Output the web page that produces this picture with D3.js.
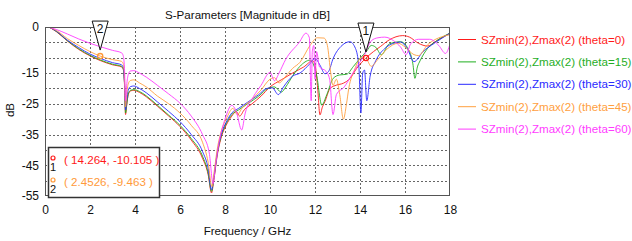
<!DOCTYPE html>
<html><head><meta charset="utf-8">
<script src="https://cdn.jsdelivr.net/npm/d3@7"></script>
<style>body{margin:0;background:#fff}svg{display:block}text{font-family:"Liberation Sans",Arial,sans-serif}</style>
</head><body><svg id="c" width="632" height="241"></svg>
<script>
// ---------- data ----------
const seriesNames = ["SZmin(2),Zmax(2) (theta=0)","SZmin(2),Zmax(2) (theta=15)","SZmin(2),Zmax(2) (theta=30)","SZmin(2),Zmax(2) (theta=45)","SZmin(2),Zmax(2) (theta=60)"];
const seriesColors = ["#ff1a1a","#1fae1f","#2a2aff","#ffa040","#ff3cff"];
const xTicks = [0,2,4,6,8,10,12,14,16,18];
const yTickLabels = [0,-15,-25,-35,-45,-55];
const yGrid = [-5,-10,-15,-20,-25,-30,-35,-40,-45,-50];

const red = [[0.2,-0.1],[0.5,-1.5],[1,-4.6],[1.5,-7.3],[2,-9.4],[2.45,-10.9],[3,-12.3],[3.4,-13.0],[3.47,-13.6],[3.53,-18],[3.58,-28.5],[3.63,-25.5],[3.7,-22],[3.8,-20.8],[3.95,-20.6],[4.2,-21.3],[4.5,-22.7],[5,-25.8],[5.5,-29],[6,-32.4],[6.5,-36.8],[7,-42.7],[7.25,-48],[7.4,-54],[7.5,-50],[7.65,-42],[7.85,-35.5],[8.05,-32],[8.3,-29],[8.5,-27.5],[8.65,-29],[8.85,-27],[9.2,-25],[9.6,-22.5],[10,-19.5],[10.5,-17.2],[11,-15],[11.5,-13],[11.9,-11],[12.02,-13],[12.12,-20],[12.22,-28.6],[12.33,-26],[12.44,-24.3],[12.67,-20],[12.96,-18.9],[13.26,-18.3],[13.56,-16.7],[13.85,-13.5],[14.264,-10.105],[14.6,-8],[14.9,-6.4],[15.3,-4.2],[15.9,-2.8],[16.2,-3.3],[16.6,-5.3],[17,-6.2],[17.4,-4.5],[18,-2]];
const green = [[0.2,-0.1],[0.5,-1.4],[1,-4.5],[1.5,-7.1],[2,-9.2],[2.45,-10.7],[3,-12.1],[3.4,-12.8],[3.47,-13.4],[3.53,-18],[3.58,-28],[3.63,-25.3],[3.7,-21.8],[3.8,-20.6],[3.95,-20.4],[4.2,-21],[4.5,-22.4],[5,-25.5],[5.5,-28.7],[6,-32],[6.5,-36.3],[7,-42],[7.25,-47.5],[7.4,-53.5],[7.5,-49.5],[7.65,-41.5],[7.85,-35],[8.05,-31.5],[8.3,-28.5],[8.6,-27],[9,-25],[9.5,-22.5],[9.9,-20],[10.2,-19.5],[10.5,-21.2],[10.7,-19.5],[11,-16],[11.33,-12.8],[11.78,-10.8],[12.07,-15.6],[12.3,-25.4],[12.52,-22.1],[12.81,-16.7],[13.1,-15.6],[13.4,-15.4],[13.7,-12.9],[14,-10.2],[14.3,-7.8],[14.5,-6],[14.7,-6.6],[14.95,-9],[15.3,-5.5],[15.8,-4.8],[16.2,-8],[16.35,-12],[16.44,-16.7],[16.55,-13],[16.67,-11],[17,-7],[17.4,-4.5],[18,-2]];
const blue = [[0.2,-0.1],[0.5,-1.3],[1,-4.3],[1.5,-6.7],[2,-8.8],[2.45,-10.2],[3,-11.6],[3.4,-12.3],[3.47,-13],[3.53,-17.5],[3.58,-27],[3.63,-24],[3.7,-20.5],[3.8,-19.4],[3.95,-19.2],[4.2,-20],[4.5,-21.4],[5,-24.4],[5.5,-27.5],[6,-30.8],[6.5,-35],[7,-40.5],[7.25,-46],[7.4,-53],[7.5,-49],[7.65,-41],[7.85,-34.5],[8.05,-31],[8.3,-28],[8.6,-26.5],[9,-24.5],[9.5,-22],[9.85,-20],[10.1,-19.8],[10.37,-22],[10.6,-19.5],[11,-16],[11.33,-15],[11.78,-11.9],[12,-10.2],[12.22,-12.4],[12.44,-15.2],[12.6,-14.5],[12.81,-10.2],[13.2,-6],[13.55,-4.8],[13.8,-7],[13.95,-13],[14.04,-28],[14.12,-15],[14.2,-14],[14.3,-24],[14.45,-16],[14.7,-11],[15.1,-7],[15.5,-5.3],[15.8,-4.9],[16.1,-7],[16.4,-11.3],[16.8,-8],[17.3,-5.3],[18,-2]];
const orange = [[0.2,-0.1],[0.5,-1.1],[1,-3.8],[1.5,-6],[2,-8],[2.45,-9.463],[3,-10.6],[3.4,-11.2],[3.47,-11.8],[3.53,-16],[3.58,-26],[3.63,-22],[3.7,-18.5],[3.8,-17.4],[3.95,-17.2],[4.2,-18.2],[4.5,-19.5],[5,-22.5],[5.5,-25],[6,-28],[6.5,-32],[7,-37.5],[7.25,-44],[7.42,-52],[7.52,-47],[7.65,-40],[7.85,-33.5],[8.05,-30],[8.35,-26.5],[8.55,-28.5],[8.75,-26.5],[9.2,-23.5],[9.6,-20.5],[10,-17],[10.2,-16.5],[10.4,-18.2],[10.7,-16],[11,-13.5],[11.33,-11.5],[11.78,-6],[12.1,-3.5],[12.4,-3.6],[12.55,-6],[12.7,-15],[12.8,-19],[12.95,-17],[13.1,-22],[13.26,-30],[13.4,-25],[13.5,-20],[13.75,-14],[14.1,-9.8],[14.3,-10.6],[14.5,-12.8],[14.8,-10.5],[15.2,-7.2],[15.7,-5.3],[16,-6.5],[16.4,-9],[16.6,-9.3],[17,-5.8],[18,-2.5]];
const magenta = [[0.2,-0.1],[0.5,-0.8],[1,-2.3],[1.5,-3.9],[2,-5.3],[2.45,-6.4],[3,-7.6],[3.4,-8.4],[3.47,-9.2],[3.53,-13],[3.58,-24],[3.63,-19],[3.7,-15.5],[3.8,-14.3],[3.95,-14.2],[4.2,-15],[4.5,-16.3],[5,-19],[5.5,-21.8],[6,-24.8],[6.5,-29],[7,-35],[7.3,-41],[7.47,-51],[7.58,-45],[7.75,-37],[8,-30],[8.3,-25.5],[8.5,-27.5],[8.74,-33.5],[8.9,-28],[9.26,-22.7],[9.6,-19],[10,-14.8],[10.2,-17.5],[10.4,-15],[10.7,-10.5],[11.3,-5],[11.6,-2],[11.75,-3.5],[11.83,-24],[11.88,-8],[11.95,-6],[12.0,-17],[12.07,-8],[12.2,-13],[12.5,-14.5],[12.65,-17],[12.8,-28.5],[12.95,-22],[13.3,-19.5],[13.6,-16],[13.9,-12.5],[14.2,-9],[14.5,-4.5],[14.8,-3.5],[15.1,-3.3],[15.5,-4.5],[15.8,-6.5],[16.05,-9],[16.25,-5.5],[16.6,-4],[17.1,-4],[17.5,-6],[17.8,-8.6],[18,-5.5]];
const seriesData = [red, green, blue, orange, magenta];

const markers = [{id:"1", f:14.264, v:-10.105, color:"#ff1a1a", label:"( 14.264, -10.105 )"},
                 {id:"2", f:2.4526, v:-9.463, color:"#ff9a3a", label:"( 2.4526, -9.463 )"}];

// ---------- layout ----------
const svg = d3.select("#c");
const L=45, R=450, T=27, B=196;
const x = d3.scaleLinear().domain([0,18]).range([L,R]);
const y = d3.scaleLinear().domain([-55,0]).range([B,T]);

// title
svg.append("text").attr("x",(L+R)/2).attr("y",19).attr("text-anchor","middle")
  .attr("font-size","11.6px").attr("fill","#111").text("S-Parameters [Magnitude in dB]");

// grid
const grid = svg.append("g").attr("stroke","#666").attr("stroke-width",1).attr("stroke-dasharray","2,2");
xTicks.filter(t=>t>0&&t<18).forEach(t=>grid.append("line").attr("x1",Math.round(x(t))+0.5).attr("x2",Math.round(x(t))+0.5).attr("y1",T).attr("y2",B));
yGrid.forEach(t=>grid.append("line").attr("x1",L).attr("x2",R).attr("y1",Math.round(y(t))+0.5).attr("y2",Math.round(y(t))+0.5));

// axes (labels)
const xAxis = d3.axisBottom(x).tickValues(xTicks).tickSize(0).tickPadding(9).tickFormat(d3.format("d"));
const gx = svg.append("g").attr("transform",`translate(0,${B})`).call(xAxis);
gx.select(".domain").remove();
gx.selectAll("text").attr("font-size","12px").attr("fill","#111").style("font-family","Liberation Sans, Arial, sans-serif");
const yAxis = d3.axisLeft(y).tickValues(yTickLabels).tickSize(0).tickPadding(6).tickFormat(d=>d===0?"0":String(d));
const gy = svg.append("g").attr("transform",`translate(${L},0)`).call(yAxis);
gy.select(".domain").remove();
gy.selectAll("text").attr("font-size","12px").attr("fill","#111").style("font-family","Liberation Sans, Arial, sans-serif");

svg.append("text").attr("x",(L+R)/2).attr("y",235).attr("text-anchor","middle").attr("font-size","11.6px").attr("fill","#111").text("Frequency / GHz");
svg.append("text").attr("transform","translate(14,110) rotate(-90)").attr("text-anchor","middle").attr("font-size","11.6px").attr("fill","#111").text("dB");

// clip
svg.append("clipPath").attr("id","clp").append("rect").attr("x",L).attr("y",T).attr("width",R-L).attr("height",B-T);

// lines
const line = d3.line().x(d=>x(d[0])).y(d=>y(d[1])).curve(d3.curveMonotoneX);
const lg = svg.append("g").attr("clip-path","url(#clp)");
seriesData.forEach((s,i)=>{
  lg.append("path").datum(s).attr("d",line).attr("fill","none").attr("stroke",seriesColors[i]).attr("stroke-width",1).attr("stroke-opacity",0.9);
});

// frame
svg.append("rect").attr("x",L+0.5).attr("y",T+0.5).attr("width",R-L-1).attr("height",B-T-1).attr("fill","none").attr("stroke","#555").attr("stroke-width",1);

// markers on plot
markers.forEach(m=>{
  const px=x(m.f), py=y(m.v);
  svg.append("circle").attr("cx",px).attr("cy",py).attr("r",2.6).attr("fill","none").attr("stroke",m.color).attr("stroke-width",1.3);
  const tipY = py-6, topY = py-35;
  svg.append("path").attr("d",`M${px-8},${topY}L${px+8},${topY}L${px},${tipY}Z`).attr("fill","#fff").attr("stroke","#111").attr("stroke-width",1);
  svg.append("text").attr("x",px).attr("y",topY+12).attr("text-anchor","middle").attr("font-size","12px").attr("fill","#111").text(m.id);
});

// marker table
const bx=48, by=147;
svg.append("rect").attr("x",bx+0.5).attr("y",by+0.5).attr("width",111).attr("height",50).attr("fill","#fff").attr("stroke","#333").attr("stroke-width",1.5);
markers.forEach((m,i)=>{
  const cy = by+12+i*22;
  svg.append("circle").attr("cx",bx+5).attr("cy",cy-1).attr("r",2).attr("fill","none").attr("stroke",m.color).attr("stroke-width",1.2);
  svg.append("text").attr("x",bx+5).attr("y",cy+12).attr("text-anchor","middle").attr("font-size","11px").attr("fill","#111").text(m.id);
  svg.append("text").attr("x",bx+16).attr("y",cy+5).attr("font-size","11.6px").attr("fill",m.color).text(m.label);
});

// legend
seriesNames.forEach((n,i)=>{
  const ly = 39 + i*22.4;
  svg.append("line").attr("x1",458).attr("x2",476).attr("y1",ly+0.5).attr("y2",ly+0.5).attr("stroke",seriesColors[i]).attr("stroke-width",1);
  svg.append("text").attr("x",481).attr("y",ly+4.5).attr("font-size","11.6px").attr("fill",seriesColors[i]).text(n);
});
</script></body></html>
